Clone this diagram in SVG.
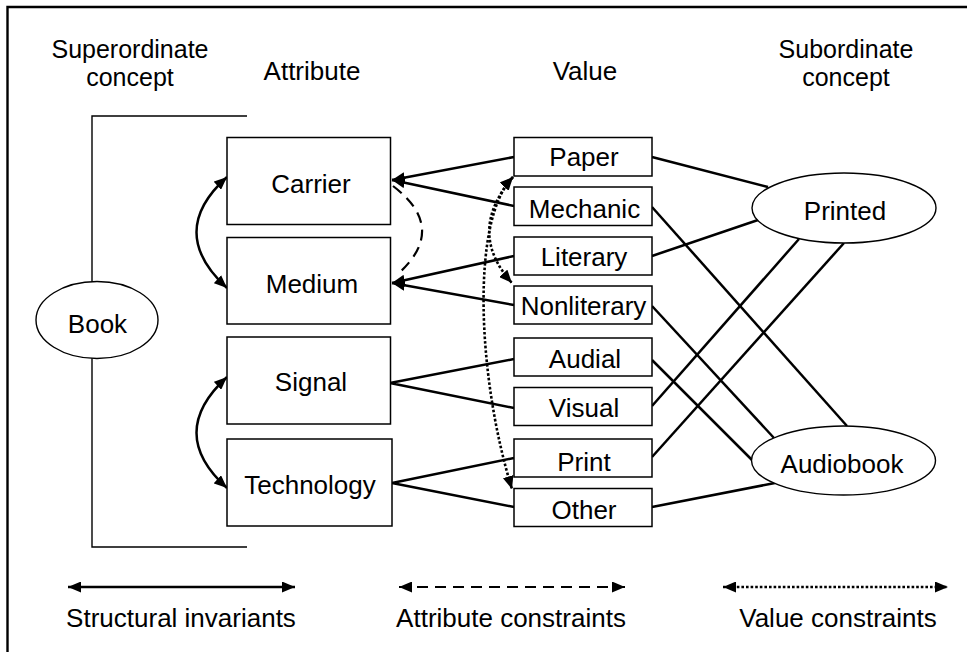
<svg xmlns="http://www.w3.org/2000/svg" width="967" height="652" viewBox="0 0 967 652">
<defs>
<style>
text{font-family:"Liberation Sans",Arial,Helvetica,sans-serif;font-size:26px;fill:#000;text-anchor:middle}
.hd{font-size:25px}
.box{fill:#fff;stroke:#000;stroke-width:1.5}
.ell{fill:#fff;stroke:#000;stroke-width:1.4}
.ln{fill:none;stroke:#000;stroke-width:2.5}
.thin{fill:none;stroke:#000;stroke-width:1.4}
.dash{fill:none;stroke:#000;stroke-width:2.2;stroke-dasharray:11 7}
.dot{fill:none;stroke:#000;stroke-width:2.6;stroke-dasharray:2.6 2}
</style>
<marker id="ah" viewBox="0 0 13 11" refX="13" refY="5.5" markerWidth="13" markerHeight="11" markerUnits="userSpaceOnUse" orient="auto-start-reverse"><path d="M0,0 L13,5.5 L0,11 z" fill="#000"/></marker>
</defs>
<rect width="967" height="652" fill="#fff"/>
<path d="M7.5 652 V7 H967" fill="none" stroke="#000" stroke-width="2.4"/>

<g id="headers">
<text class="hd" x="130" y="58">Superordinate</text>
<text class="hd" x="130" y="86">concept</text>
<text x="312" y="80">Attribute</text>
<text x="585" y="80">Value</text>
<text class="hd" x="846" y="58">Subordinate</text>
<text class="hd" x="846" y="86">concept</text>
</g>

<g id="bracket">
<path class="thin" d="M247 116 H92 V282"/>
<path class="thin" d="M92 358 V547 H247"/>
</g>

<g id="connectors">
<line class="ln" x1="514" y1="157" x2="392" y2="180" marker-end="url(#ah)"/>
<line class="ln" x1="514" y1="206" x2="392" y2="180" marker-end="url(#ah)"/>
<line class="ln" x1="514" y1="256" x2="392" y2="283" marker-end="url(#ah)"/>
<line class="ln" x1="514" y1="305" x2="392" y2="283" marker-end="url(#ah)"/>
<polyline class="ln" points="514,359 390,383 514,408"/>
<polyline class="ln" points="514,458 392,483 514,507"/>
<line class="ln" x1="652" y1="157" x2="768" y2="187"/>
<line class="ln" x1="652" y1="207" x2="847" y2="426"/>
<line class="ln" x1="652" y1="256" x2="758" y2="220"/>
<line class="ln" x1="652" y1="306" x2="774" y2="438"/>
<line class="ln" x1="652" y1="360" x2="752" y2="460"/>
<line class="ln" x1="652" y1="406" x2="799" y2="239"/>
<line class="ln" x1="652" y1="457" x2="844" y2="243"/>
<line class="ln" x1="652" y1="507" x2="775" y2="483"/>
<path class="ln" d="M227 177 Q166 232 227 288" marker-start="url(#ah)" marker-end="url(#ah)"/>
<path class="ln" d="M227 377 Q166 433 227 488" marker-start="url(#ah)" marker-end="url(#ah)"/>
<path class="dash" d="M393 186 Q448 228 399 273"/>
<path class="dot" d="M513 177 Q466 232 512 283" marker-start="url(#ah)" marker-end="url(#ah)"/>
<path class="dot" d="M513 177 C470 220 478 380 512 489" marker-start="url(#ah)" marker-end="url(#ah)"/>
</g>

<g id="Book">
<ellipse class="ell" cx="97" cy="320" rx="61" ry="38.5"/>
<text x="97.5" y="333">Book</text>
</g>

<g id="Carrier"><rect class="box" x="227" y="137.5" width="163.5" height="87"/><text x="311" y="193">Carrier</text></g>
<g id="Medium"><rect class="box" x="227" y="237.5" width="163.5" height="86.5"/><text x="312" y="293">Medium</text></g>
<g id="Signal"><rect class="box" x="227" y="337" width="163.5" height="87"/><text x="311" y="391">Signal</text></g>
<g id="Technology"><rect class="box" x="227" y="439" width="165" height="87"/><text x="310" y="494">Technology</text></g>

<g id="Paper"><rect class="box" x="514" y="137.5" width="138" height="38.5"/><text x="584" y="166">Paper</text></g>
<g id="Mechanic"><rect class="box" x="514" y="187" width="138" height="38.5"/><text x="584.5" y="218">Mechanic</text></g>
<g id="Literary"><rect class="box" x="514" y="237" width="138" height="38"/><text x="584" y="266">Literary</text></g>
<g id="Nonliterary"><rect class="box" x="514" y="286" width="138" height="38"/><text x="583.5" y="315">Nonliterary</text></g>
<g id="Audial"><rect class="box" x="514" y="338" width="138" height="38"/><text x="585" y="368">Audial</text></g>
<g id="Visual"><rect class="box" x="514" y="387.5" width="138" height="38"/><text x="584" y="417">Visual</text></g>
<g id="Print"><rect class="box" x="514" y="439" width="138" height="38"/><text x="584" y="471">Print</text></g>
<g id="Other"><rect class="box" x="514" y="488.5" width="138" height="38"/><text x="584" y="519">Other</text></g>

<g id="Printed"><ellipse class="ell" cx="844" cy="208" rx="92" ry="35"/><text x="845" y="220">Printed</text></g>
<g id="Audiobook"><ellipse class="ell" cx="843.5" cy="460.5" rx="92" ry="34.5"/><text x="842" y="473">Audiobook</text></g>

<g id="legend">
<line class="ln" x1="68" y1="587" x2="295" y2="587" marker-start="url(#ah)" marker-end="url(#ah)"/>
<text x="181" y="627">Structural invariants</text>
<line class="dash" x1="399" y1="587" x2="625" y2="587" marker-start="url(#ah)" marker-end="url(#ah)"/>
<text x="511" y="627">Attribute constraints</text>
<line class="dot" x1="723" y1="587" x2="948" y2="587" marker-start="url(#ah)" marker-end="url(#ah)"/>
<text x="838" y="627">Value constraints</text>
</g>
</svg>
